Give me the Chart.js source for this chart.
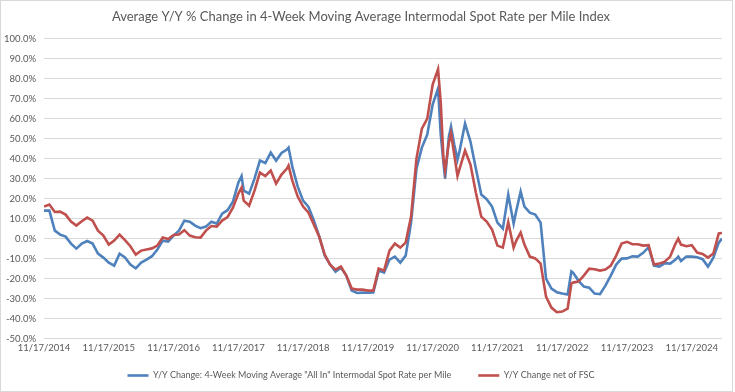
<!DOCTYPE html>
<html>
<head>
<meta charset="utf-8">
<script src="https://cdn.jsdelivr.net/npm/chart.js@4.4.1/dist/chart.umd.min.js"></script>
<style>
  html, body { margin: 0; padding: 0; background: #fff; }
  #moldura { position: absolute; left: 0; top: 0; width: 733px; height: 392px; border: 1px solid #d9d9d9; box-sizing: border-box; }
  #grafico { position: absolute; left: 0; top: 0; }
</style>
</head>
<body>
<div id="moldura"></div>
<canvas id="grafico" width="735" height="392"></canvas>
<script>
// meses desde 11/17/2014 (alguns pontos extras nos picos)
var meses = [0, 1, 2, 3, 4, 5, 6, 7, 8, 9, 10, 11, 12, 13, 14, 15, 16, 17, 18, 19,
    20, 21, 22, 23, 24, 25, 26, 27, 28, 29, 30, 31, 32, 33, 34, 35, 36, 36.6, 37, 38,
    39, 40, 41, 42, 43, 44, 45, 45.3, 46, 47, 48, 49, 50, 51, 52, 53, 54, 55, 56, 57,
    58, 59, 60, 61, 62, 63, 64, 65, 66, 67, 68, 69, 70, 71, 72, 73, 73.5, 74, 74.3, 75,
    75.4, 76, 76.6, 77, 78, 79, 80, 81, 82, 83, 84, 85, 86, 87, 87.5, 88.3, 89, 90, 91, 92,
    93, 94, 95, 96, 97, 97.7, 98, 99, 100, 101, 102, 103, 104, 105, 106, 107, 108, 109, 110, 111,
    112, 113, 114, 115, 116, 117, 117.5, 118, 119, 120, 121, 122, 123, 124, 125, 125.6];

var allIn = [14, 14, 4, 2, 1, -2.5, -5, -2.5, -1.2, -2.5, -7.5, -9.5, -12, -13.5, -7.5, -9.4, -13, -14.9, -12, -10.5,
    -8.8, -5.5, -1, -1.5, 1.5, 4, 9, 8.5, 6.5, 5.2, 6, 8.4, 7.5, 12.5, 14.2, 18.5, 28, 31.3, 24, 22.5,
    30, 39, 37.8, 43, 39, 42.8, 44.5, 45.5, 36, 26, 19, 15.8, 9, 1, -8.5, -13, -16.5, -14.5, -18.5, -26,
    -27.2, -27, -27.1, -27, -16, -17, -10.5, -9, -12, -8.5, 8, 35, 45.5, 52, 67, 75, 52, 38, 30, 51,
    56, 47, 39.5, 44, 57.5, 48.5, 35, 22, 19.7, 16, 8, 5, 22, 7.5, 14, 23.5, 16, 13, 12, 8,
    -20, -25, -26.8, -27.5, -28, -16.4, -17, -21, -24, -24.5, -27.5, -27.8, -23.5, -18.5, -13, -10, -9.9, -8.9, -9, -7.1,
    -4.3, -13.5, -14, -12.3, -12.5, -10.5, -9, -11.2, -9, -9, -9.3, -10.3, -14, -9.5, -2, 0];

var semFSC = [16, 17, 13.3, 13.5, 12, 8.5, 6.5, 8.7, 10.5, 9, 4, 1.5, -3, -1, 2, -0.8, -3.8, -8, -6, -5.4,
    -4.9, -3.5, 0.5, -0.2, 1.8, 2, 4.2, 1.5, 0.7, 0.5, 4, 6.3, 6, 9, 10.7, 15.5, 22.5, 25.5, 19, 16.5,
    24, 33, 31.3, 34, 27.5, 32, 35, 36.5, 29, 21, 16, 13, 7, 0.8, -8, -13, -15.5, -14, -18.5, -25,
    -25.5, -25.5, -26, -26, -15, -16, -6, -2.5, -4.5, -2, 11, 40, 55, 60, 77, 84.7, 68, 40, 34, 48,
    52.6, 42, 31.3, 35, 44, 37, 23, 11, 8.5, 4.5, -3.5, -4.5, 8.2, -4.5, -1, 3, -3, -9, -9.9, -12.5,
    -29, -34.5, -36.8, -36.5, -35, -22.5, -22, -21.5, -18.5, -15, -15.3, -16, -15.5, -13.5, -8.5, -2.5, -1.6, -2.8, -2.8, -3.5,
    -3.3, -13, -12.5, -11.5, -9, -2.5, 0, -3, -3.8, -3.3, -7, -7.7, -9.5, -7.5, 2.6, 2.8];

var rotulosX = ['11/17/2014', '11/17/2015', '11/17/2016', '11/17/2017', '11/17/2018', '11/17/2019',
    '11/17/2020', '11/17/2021', '11/17/2022', '11/17/2023', '11/17/2024'];

function pontos(valores) {
    return valores.map(function (v, i) { return { x: meses[i], y: v }; });
}

// legenda: espaco largo entre itens, mas caixa baixa
var ajusteLegenda = {
    id: 'ajusteLegenda',
    beforeLayout: function (chart) {
        var leg = chart.legend;
        if (!leg || leg._ajustada) return;
        var fitOriginal = leg.fit.bind(leg);
        var drawOriginal = leg.draw.bind(leg);
        leg.fit = function () { fitOriginal(); this.height = 34; };
        leg.draw = function () {
            this.top -= 14;
            drawOriginal();
            this.top += 14;
        };
        leg._ajustada = true;
    }
};

function montarGrafico() {
    var fonte = "Lato, 'Liberation Sans', sans-serif";
    new Chart(document.getElementById('grafico'), {
        type: 'line',
        data: {
            datasets: [
                {
                    label: 'Y/Y Change: 4-Week Moving Average "All In" Intermodal Spot Rate per Mile',
                    data: pontos(allIn),
                    borderColor: '#4F81BD',
                    backgroundColor: '#4F81BD',
                    borderWidth: 2.6,
                    pointRadius: 0,
                    pointStyle: 'line',
                    tension: 0,
                    order: 1
                },
                {
                    label: 'Y/Y Change net of FSC',
                    data: pontos(semFSC),
                    borderColor: '#C0504D',
                    backgroundColor: '#C0504D',
                    borderWidth: 2.6,
                    pointRadius: 0,
                    pointStyle: 'line',
                    tension: 0,
                    order: 0
                }
            ]
        },
        options: {
            responsive: false,
            animation: false,
            layout: { padding: { left: 0, right: 13, top: 0, bottom: 0 } },
            scales: {
                x: {
                    type: 'linear',
                    min: 0,
                    max: 125.6,
                    grid: { display: false, drawTicks: false },
                    border: { display: false },
                    afterBuildTicks: function (eixo) {
                        eixo.ticks = rotulosX.map(function (r, i) { return { value: i * 12 }; });
                    },
                    ticks: {
                        autoSkip: false,
                        maxRotation: 0,
                        padding: 4,
                        color: '#595959',
                        font: { family: fonte, size: 9.5 },
                        callback: function (v, i) { return rotulosX[i]; }
                    }
                },
                y: {
                    min: -50,
                    max: 100,
                    afterFit: function (eixo) { eixo.width = 44; },
                    grid: { color: '#d9d9d9', lineWidth: 1, drawTicks: false },
                    border: { display: false },
                    ticks: {
                        stepSize: 10,
                        autoSkip: false,
                        padding: 8,
                        color: '#595959',
                        font: { family: fonte, size: 9.5 },
                        callback: function (v) { return v.toFixed(1) + '%'; }
                    }
                }
            },
            plugins: {
                title: {
                    display: true,
                    text: 'Average Y/Y % Change in 4-Week Moving Average Intermodal Spot Rate per Mile Index',
                    color: '#595959',
                    font: { family: fonte, size: 13, weight: 'normal' },
                    padding: { top: 9, bottom: 14 }
                },
                legend: {
                    position: 'bottom',
                    labels: {
                        usePointStyle: true,
                        pointStyleWidth: 21,
                        padding: 27,
                        color: '#595959',
                        font: { family: fonte, size: 9 },
                        sort: function (a, b) { return a.datasetIndex - b.datasetIndex; }
                    }
                },
                tooltip: { enabled: false }
            }
        },
        plugins: [ajusteLegenda]
    });
}

montarGrafico();
</script>
</body>
</html>
